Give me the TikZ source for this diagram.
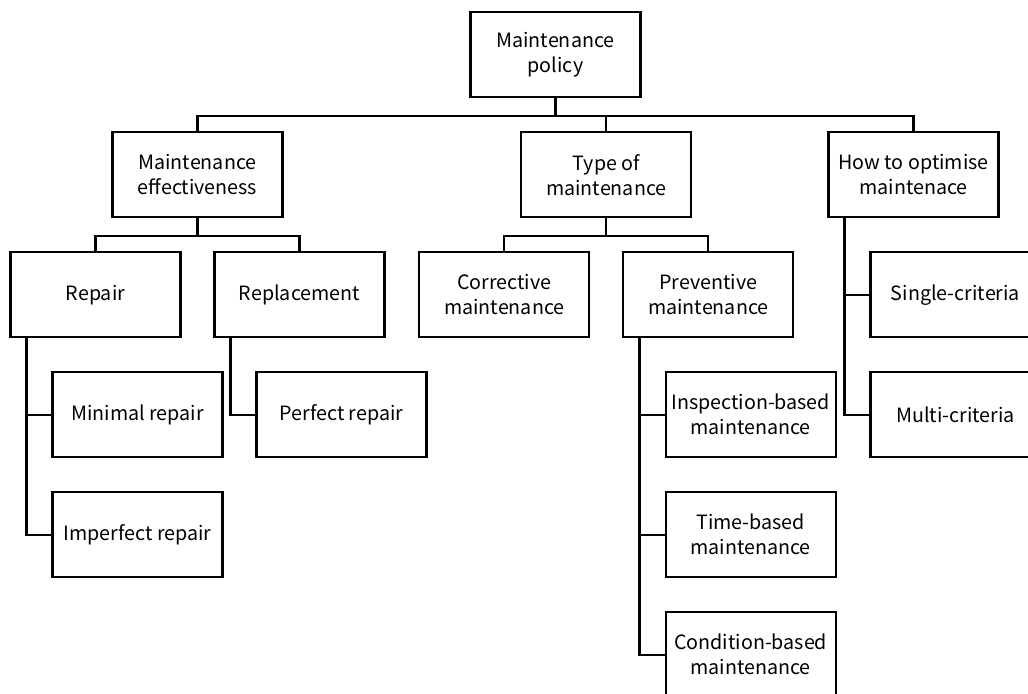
\documentclass[tikz,border=0pt]{standalone}
\usepackage{fontspec}
\setmainfont{Noto Sans CJK SC}
\usetikzlibrary{positioning}

\begin{document}
\begin{tikzpicture}[node distance=3cm, on grid, line width=1.6pt,
        box/.style={draw, rectangle, minimum width=4.25cm, minimum height=2.125cm,
            inner sep=0pt, align=center, font=\fontsize{14}{17.8}\selectfont}]
        \useasboundingbox (-13.8875,1.3675) rectangle (11.8125,-15.9575);
        \clip (-13.8875,1.3675) rectangle (11.8125,-15.9575);

        \node[box] (policy) {Maintenance\\policy};

        \node[box] (eff)  [below left=3cm and 8.95cm of policy] {Maintenance\\effectiveness};
        \node[box] (type) [below right=3cm and 1.27cm of policy] {Type of\\maintenance};
        \node[box] (how)  [below right=3cm and 8.95cm of policy] {How to optimise\\maintenace};

        \node[box] (repair)  [below left=3cm and 2.55cm of eff] {Repair};
        \node[box] (replace) [below right=3cm and 2.55cm of eff] {Replacement};
        \node[box] (corr)    [below left=3cm and 2.55cm of type] {Corrective\\maintenance};
        \node[box] (prev)    [below right=3cm and 2.55cm of type] {Preventive\\maintenance};

        \node[box] (minimal)   [below right=3cm and 1.05cm of repair] {Minimal repair};
        \node[box] (imperfect) [below=of minimal] {Imperfect repair};
        \node[box] (perfect)   [below right=3cm and 1.05cm of replace] {Perfect repair};

        \node[box] (insp) [below right=3cm and 1.06cm of prev] {Inspection-based\\maintenance};
        \node[box] (time) [below=of insp] {Time-based\\maintenance};
        \node[box] (cond) [below=of time] {Condition-based\\maintenance};

        \node[box] (single) [below right=3cm and 1.05cm of how] {Single-criteria};
        \node[box] (multi)  [below=of single] {Multi-criteria};

        % buses
        \draw (policy.south) -- ++(0,-0.4375) coordinate (bus0);
        \draw (bus0) -| (eff.north);
        \draw (bus0) -| (type.north);
        \draw (bus0) -| (how.north);

        \draw (eff.south) -- ++(0,-0.4375) coordinate (bus1);
        \draw (bus1) -| (repair.north);
        \draw (bus1) -| (replace.north);

        \draw (type.south) -- ++(0,-0.4375) coordinate (bus2);
        \draw (bus2) -| (corr.north);
        \draw (bus2) -| (prev.north);

        % trunks
        \draw ([xshift=0.43cm]repair.south west) |- (minimal.west);
        \draw ([xshift=0.43cm]repair.south west) |- (imperfect.west);
        \draw ([xshift=0.43cm]replace.south west) |- (perfect.west);
        \draw ([xshift=0.43cm]prev.south west) |- (insp.west);
        \draw ([xshift=0.43cm]prev.south west) |- (time.west);
        \draw ([xshift=0.43cm]prev.south west) |- (cond.west);
        \draw ([xshift=0.43cm]how.south west) |- (single.west);
        \draw ([xshift=0.43cm]how.south west) |- (multi.west);
    \end{tikzpicture}
\end{document}
